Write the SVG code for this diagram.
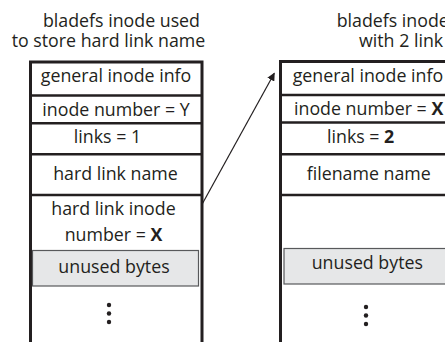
<svg xmlns="http://www.w3.org/2000/svg" width="445" height="342" viewBox="0 0 445 342">
  <style>
    text { font-family: "Open Sans", "Noto Sans", sans-serif; font-size: 17.8px; fill: #231f20; }
    .mid { text-anchor: middle; }
    .b { font-weight: bold; }
    .frame { fill: none; stroke: #231f20; stroke-width: 3; }
    .sep { stroke: #231f20; stroke-width: 2.6; }
    .unused { fill: #e6e7e8; stroke: #58595b; stroke-width: 1.2; }
    .dot { fill: #231f20; }
    .link { stroke: #231f20; stroke-width: 1.2; fill: none; }
  </style>
  <defs>
    <marker id="arrowhead" viewBox="0 0 10 10" refX="9" refY="5" markerWidth="8" markerHeight="8" markerUnits="userSpaceOnUse" orient="auto">
      <path d="M0,0 L10,5 L0,10 z" fill="#231f20"/>
    </marker>
  </defs>
  <rect width="445" height="342" fill="#ffffff"/>

  <!-- inode holding the hard link name -->
  <g id="hardlink-inode">
    <text class="mid" x="121.5" y="27">bladefs inode used</text>
    <text class="mid" x="108.5" y="47">to store hard link name</text>
    <path class="frame" d="M30.5,342 V62 H202 V342"/>
    <line class="sep" x1="30.5" y1="95.5" x2="202" y2="95.5"/>
    <line class="sep" x1="30.5" y1="123.3" x2="202" y2="123.3"/>
    <line class="sep" x1="30.5" y1="154.3" x2="202" y2="154.3"/>
    <line class="sep" x1="30.5" y1="195" x2="202" y2="195"/>
    <text class="mid" x="116" y="82">general inode info</text>
    <text class="mid" x="116" y="115.5">inode number = Y</text>
    <text class="mid" x="107.5" y="142.5">links = 1</text>
    <text class="mid" x="115.5" y="180">hard link name</text>
    <text class="mid" x="113.5" y="215">hard link inode</text>
    <text class="mid" x="113.5" y="240.5">number = <tspan class="b">X</tspan></text>
    <rect class="unused" x="32.5" y="250.5" width="166" height="35.5"/>
    <text class="mid" x="114" y="273">unused bytes</text>
    <circle class="dot" cx="109" cy="305" r="2.2"/>
    <circle class="dot" cx="109" cy="313.5" r="2.2"/>
    <circle class="dot" cx="109" cy="322" r="2.2"/>
  </g>

  <!-- inode of the file with two links -->
  <g id="target-inode">
    <text x="336.7" y="27">bladefs inode</text>
    <text x="359" y="47">with 2 link</text>
    <path class="frame" d="M280.5,342 V61.5 H447"/>
    <line class="sep" x1="280.5" y1="95" x2="447" y2="95"/>
    <line class="sep" x1="280.5" y1="122.5" x2="447" y2="122.5"/>
    <line class="sep" x1="280.5" y1="154.3" x2="447" y2="154.3"/>
    <line class="sep" x1="280.5" y1="195" x2="447" y2="195"/>
    <text x="292.7" y="82">general inode info</text>
    <text x="294" y="115">inode number = <tspan class="b">X</tspan></text>
    <text x="327" y="143">links = <tspan class="b">2</tspan></text>
    <text x="306.7" y="180">filename name</text>
    <rect class="unused" x="284" y="248.5" width="170" height="35.5"/>
    <text x="311.7" y="268.5">unused bytes</text>
    <circle class="dot" cx="366" cy="307" r="2.2"/>
    <circle class="dot" cx="366" cy="315.5" r="2.2"/>
    <circle class="dot" cx="366" cy="324" r="2.2"/>
  </g>

  <!-- connectors -->
  <g id="connectors">
    <line class="link" x1="202.5" y1="203.5" x2="274.3" y2="73.3" marker-end="url(#arrowhead)"/>
  </g>
</svg>
